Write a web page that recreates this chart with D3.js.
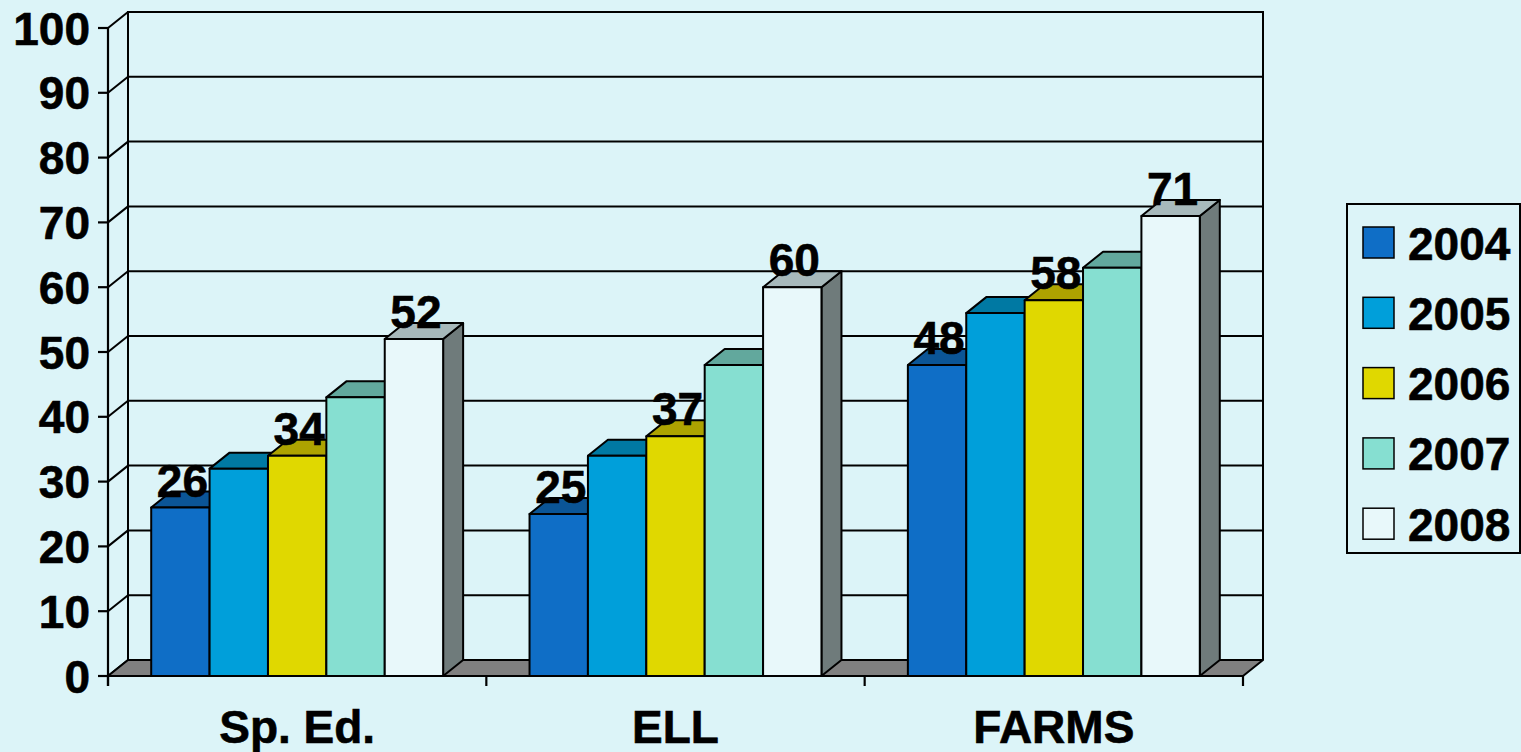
<!DOCTYPE html>
<html>
<head>
<meta charset="utf-8">
<script src="https://cdn.jsdelivr.net/npm/d3@7"></script>
<style>
  html, body { margin: 0; padding: 0; background: #DCF4F8; }
  svg { display: block; }
  text { font-family: "Liberation Sans", Arial, sans-serif; font-weight: bold; fill: #000;
         stroke: #000; stroke-width: 0.6px; }
</style>
</head>
<body>
<svg id="chart" width="1521" height="752"></svg>
<script>
// ---- data ----
const categories = ["Sp. Ed.", "ELL", "FARMS"];
const years = ["2004", "2005", "2006", "2007", "2008"];
const values2004 = [26, 25, 48];
const values2005 = [32, 34, 56];
const values2006 = [34, 37, 58];
const values2007 = [43, 48, 63];
const values2008 = [52, 60, 71];
const labelledYears = ["2004", "2006", "2008"];
const yTicks = [0, 10, 20, 30, 40, 50, 60, 70, 80, 90, 100];

const seriesValues = [values2004, values2005, values2006, values2007, values2008];

// face colours per series: front, top, side
const frontColors = ["#0F6EC6", "#009FDA", "#E0D800", "#86DFD1", "#E8F8FA"];
const topColors   = ["#0B5596", "#0079A3", "#ADA300", "#62A89D", "#A7B9BB"];
const sideColors  = ["#0A477E", "#006588", "#8E8600", "#558F86", "#6F7B7B"];

// ---- layout ----
const svg = d3.select("#chart");
const W = 1521, H = 752;
svg.append("rect").attr("width", W).attr("height", H).attr("fill", "#DCF4F8");

const frontLeft = 108, frontRight = 1243;
const depthX = 20, depthY = -16;   // oblique depth offset of the 3D box

const y = d3.scaleLinear().domain([0, 100]).range([676, 28]);
const x = d3.scaleBand().domain(categories).range([frontLeft, frontRight]).padding(0);
const xs = d3.scaleBand().domain(years).range([0, x.bandwidth()])
  .paddingInner(0).paddingOuter(0.74);

const lineColor = "#000";
const lw = 2;
const pts = arr => arr.map(p => p.join(",")).join(" ");

// back wall gridlines
const walls = svg.append("g");
yTicks.filter(v => v > 0).forEach(v => {
  walls.append("line")
    .attr("x1", frontLeft + depthX).attr("x2", frontRight + depthX)
    .attr("y1", y(v) + depthY).attr("y2", y(v) + depthY)
    .attr("stroke", lineColor).attr("stroke-width", lw);
});
// left wall diagonals
yTicks.forEach(v => {
  walls.append("line")
    .attr("x1", frontLeft).attr("y1", y(v))
    .attr("x2", frontLeft + depthX).attr("y2", y(v) + depthY)
    .attr("stroke", lineColor).attr("stroke-width", lw);
});
// back wall vertical edges
[frontLeft + depthX, frontRight + depthX].forEach(xx => {
  walls.append("line")
    .attr("x1", xx).attr("x2", xx)
    .attr("y1", y(100) + depthY - 1).attr("y2", y(0) + depthY)
    .attr("stroke", lineColor).attr("stroke-width", lw);
});

// floor
svg.append("polygon")
  .attr("points", pts([
    [frontLeft, y(0)], [frontRight, y(0)],
    [frontRight + depthX, y(0) + depthY], [frontLeft + depthX, y(0) + depthY]
  ]))
  .attr("fill", "#808080").attr("stroke", lineColor).attr("stroke-width", lw)
  .attr("stroke-linejoin", "round");

// bars
const bars = svg.append("g");
categories.forEach((cat, ci) => {
  years.forEach((yr, si) => {
    const v = seriesValues[si][ci];
    const x0 = x(cat) + xs(yr);
    const w = xs.bandwidth();
    const yt = y(v), yb = y(0);
    const g = bars.append("g")
      .attr("stroke", lineColor).attr("stroke-width", lw).attr("stroke-linejoin", "round");
    g.append("polygon")
      .attr("points", pts([[x0 + w, yt], [x0 + w + depthX, yt + depthY],
                           [x0 + w + depthX, yb + depthY], [x0 + w, yb]]))
      .attr("fill", sideColors[si]);
    g.append("polygon")
      .attr("points", pts([[x0, yt], [x0 + w, yt],
                           [x0 + w + depthX, yt + depthY], [x0 + depthX, yt + depthY]]))
      .attr("fill", topColors[si]);
    g.append("rect")
      .attr("x", x0).attr("y", yt).attr("width", w).attr("height", yb - yt)
      .attr("fill", frontColors[si]);
  });
});

// front axis lines
svg.append("line")
  .attr("x1", frontLeft).attr("x2", frontLeft).attr("y1", y(100)).attr("y2", y(0) + 10)
  .attr("stroke", lineColor).attr("stroke-width", 2.2);
svg.append("line")
  .attr("x1", frontLeft).attr("x2", frontRight).attr("y1", y(0)).attr("y2", y(0))
  .attr("stroke", lineColor).attr("stroke-width", 2.2);

// value axis ticks and labels
const yAxis = svg.append("g");
yTicks.forEach(v => {
  yAxis.append("line")
    .attr("x1", frontLeft - 10).attr("x2", frontLeft).attr("y1", y(v)).attr("y2", y(v))
    .attr("stroke", lineColor).attr("stroke-width", 2.2);
  yAxis.append("text")
    .attr("x", 90).attr("y", y(v) + 16.5)
    .attr("text-anchor", "end").attr("font-size", 46)
    .text(v);
});

// category ticks and labels
const catEdges = categories.map(c => x(c)).concat([frontRight]);
catEdges.forEach(xx => {
  svg.append("line")
    .attr("x1", xx).attr("x2", xx).attr("y1", y(0)).attr("y2", y(0) + 10)
    .attr("stroke", lineColor).attr("stroke-width", 2.2);
});
categories.forEach(cat => {
  svg.append("text")
    .attr("x", x(cat) + x.bandwidth() / 2).attr("y", 743)
    .attr("text-anchor", "middle").attr("font-size", 46)
    .text(cat);
});

// value labels
categories.forEach((cat, ci) => {
  years.forEach((yr, si) => {
    if (!labelledYears.includes(yr)) return;
    const v = seriesValues[si][ci];
    svg.append("text")
      .attr("x", x(cat) + xs(yr) + xs.bandwidth() / 2 + 2)
      .attr("y", y(v) - 11)
      .attr("text-anchor", "middle").attr("font-size", 46)
      .text(v);
  });
});

// legend
const legend = svg.append("g");
legend.append("rect")
  .attr("x", 1347).attr("y", 204).attr("width", 173).attr("height", 349)
  .attr("fill", "none").attr("stroke", lineColor).attr("stroke-width", 2);
years.forEach((yr, i) => {
  const top = 227 + i * 70.3;
  legend.append("rect")
    .attr("x", 1363).attr("y", top).attr("width", 31).attr("height", 31)
    .attr("fill", frontColors[i]).attr("stroke", lineColor).attr("stroke-width", 1.5);
  legend.append("text")
    .attr("x", 1408).attr("y", top + 32.5)
    .attr("font-size", 46)
    .text(yr);
});
</script>
</body>
</html>
